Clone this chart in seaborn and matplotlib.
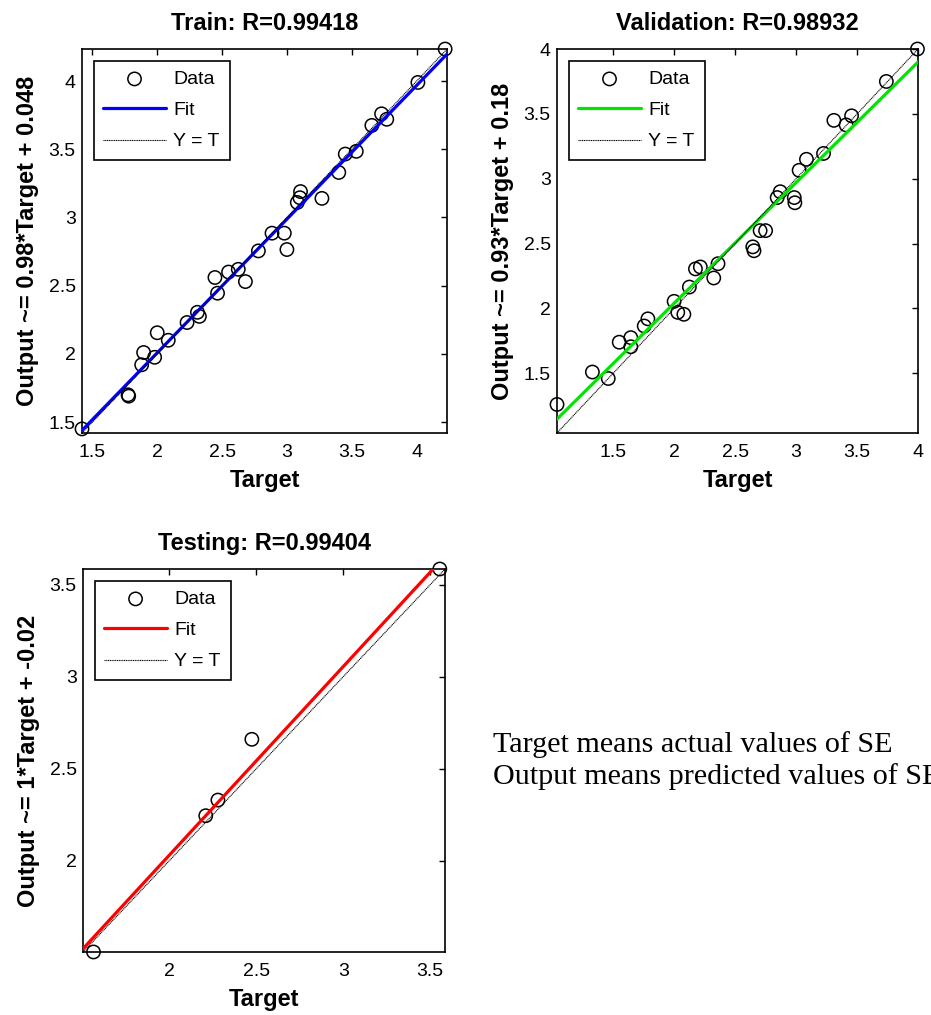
import numpy as np
import matplotlib
matplotlib.use('Agg')
import matplotlib.pyplot as plt
from matplotlib.ticker import MultipleLocator, FormatStrFormatter
import seaborn as sns

# Train set (target, network output)
train_target = [1.42, 1.775, 1.78, 1.88, 1.895, 1.98, 2.0, 2.085, 2.23, 2.31, 2.325,
                2.445, 2.465, 2.55, 2.625, 2.68, 2.78, 2.885, 2.98, 3.0, 3.08, 3.1,
                3.105, 3.27, 3.4, 3.45, 3.535, 3.655, 3.73, 3.77, 4.01, 4.22]
train_output = [1.45, 1.70, 1.69, 1.92, 2.01, 1.975, 2.155, 2.10, 2.23, 2.305, 2.275,
                2.56, 2.445, 2.60, 2.62, 2.53, 2.755, 2.885, 2.885, 2.765, 3.11, 3.145,
                3.19, 3.14, 3.33, 3.465, 3.485, 3.675, 3.76, 3.72, 3.99, 4.235]

# Validation set
val_target = [1.04, 1.33, 1.46, 1.55, 1.645, 1.645, 1.755, 1.785, 2.0, 2.03, 2.08,
              2.125, 2.175, 2.215, 2.325, 2.36, 2.645, 2.655, 2.705, 2.75, 2.845, 2.87,
              2.985, 2.99, 3.025, 3.085, 3.225, 3.31, 3.41, 3.455, 3.74, 3.995]
val_output = [1.26, 1.51, 1.46, 1.74, 1.775, 1.705, 1.865, 1.92, 2.055, 1.97, 1.955,
              2.165, 2.305, 2.32, 2.235, 2.345, 2.475, 2.445, 2.60, 2.60, 2.855, 2.90,
              2.855, 2.815, 3.065, 3.15, 3.195, 3.45, 3.415, 3.485, 3.75, 4.0]

# Testing set
test_target = [1.565, 2.21, 2.28, 2.475, 3.555]
test_output = [1.505, 2.245, 2.33, 2.66, 3.585]

titles = ['Train: R=0.99418', 'Validation: R=0.98932', 'Testing: R=0.99404']
ylabels = ['Output ~= 0.98*Target + 0.048', 'Output ~= 0.93*Target + 0.18',
           'Output ~= 1*Target + -0.02']
fit_slope = [0.98, 0.93, 1.025]
fit_intercept = [0.048, 0.18, -0.02]
fit_colors = ['#0000ff', '#00e600', '#ff0000']

sns.set_theme(style='white')
plt.rcParams['font.family'] = ['Liberation Sans', 'DejaVu Sans']
plt.rcParams['axes.edgecolor'] = 'black'
plt.rcParams['axes.linewidth'] = 1.2
plt.rcParams['text.color'] = 'black'
plt.rcParams['axes.labelcolor'] = 'black'
plt.rcParams['xtick.color'] = 'black'
plt.rcParams['ytick.color'] = 'black'

fig = plt.figure(figsize=(9.31, 10.15), dpi=100)
positions = [[0.0881, 0.5734, 0.3921, 0.3783],
             [0.5983, 0.5734, 0.3878, 0.3783],
             [0.0892, 0.0621, 0.3888, 0.3773]]

sets = [(train_target, train_output), (val_target, val_output), (test_target, test_output)]

for i, (t, o) in enumerate(sets):
    ax = fig.add_axes(positions[i])
    t = np.array(t)
    o = np.array(o)
    lo = min(t.min(), o.min())
    hi = max(t.max(), o.max())
    lims = np.array([lo, hi])

    sns.scatterplot(x=t, y=o, ax=ax, marker='o', s=92, facecolors='none',
                    edgecolor='black', linewidth=1.1, clip_on=False, zorder=2,
                    label='Data')
    sns.lineplot(x=lims, y=fit_slope[i] * lims + fit_intercept[i], ax=ax,
                 color=fit_colors[i], linewidth=2.3, zorder=3, label='Fit')
    sns.lineplot(x=lims, y=lims, ax=ax, color='black', linewidth=0.8,
                 linestyle=(0, (1, 0.6)), zorder=4, label='Y = T')

    ax.set_xlim(lo, hi)
    ax.set_ylim(lo, hi)
    ax.xaxis.set_major_locator(MultipleLocator(0.5))
    ax.yaxis.set_major_locator(MultipleLocator(0.5))
    ax.xaxis.set_major_formatter(FormatStrFormatter('%g'))
    ax.yaxis.set_major_formatter(FormatStrFormatter('%g'))
    ax.tick_params(direction='in', top=True, right=True, length=4, width=1,
                   labelsize=14, colors='black')
    ax.tick_params(axis='x', pad=8)
    ax.tick_params(axis='y', pad=4.5)

    ax.set_title(titles[i], fontsize=17, fontweight='bold', pad=14)
    ax.set_xlabel('Target', fontsize=17, fontweight='bold', labelpad=6)
    ax.set_ylabel(ylabels[i], fontsize=17, fontweight='bold', labelpad=7)

    handles, labels = ax.get_legend_handles_labels()
    leg = ax.legend(handles, labels, loc='upper left', fontsize=14,
                    frameon=True, fancybox=False, framealpha=1,
                    edgecolor='black', handlelength=3.2, handletextpad=0.4,
                    labelspacing=0.7, borderpad=0.5, borderaxespad=0.6,
                    scatterpoints=1)
    leg.get_frame().set_linewidth(1.2)

fig.text(493 / 931, 1 - 752 / 1015, 'Target means actual values of SE',
         family=['Liberation Serif', 'DejaVu Serif'], fontsize=21.7, va='baseline')
fig.text(493 / 931, 1 - 784 / 1015, 'Output means predicted values of SE',
         family=['Liberation Serif', 'DejaVu Serif'], fontsize=21.7, va='baseline')

plt.savefig('out.png', dpi=100)
